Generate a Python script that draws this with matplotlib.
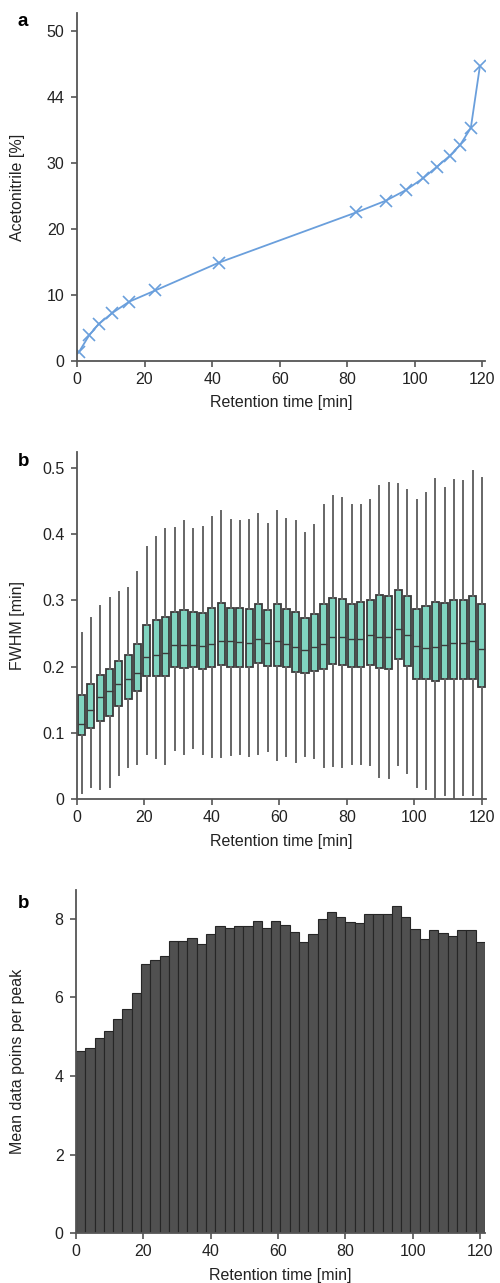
import matplotlib
matplotlib.use('Agg')
import matplotlib.pyplot as plt
import numpy as np

# panel a: gradient (acetonitrile vs retention time)
grad_time = [0.5, 3.6, 6.4, 10.5, 15.5, 23.2, 42.0, 82.6, 91.5, 97.4,
             102.5, 106.5, 110.4, 113.4, 116.6, 119.3]
grad_acn = [1.3, 3.9, 5.6, 7.3, 9.0, 10.7, 14.9, 22.5, 24.3, 25.9,
            27.7, 29.4, 31.1, 32.7, 35.3, 44.7]
acn_ticks = [0, 10, 20, 30, 40, 50]
acn_labels = ['0', '10', '20', '30', '44', '50']

# panel b: FWHM box statistics per retention time bin
fwhm_whislo = [0.009, 0.018, 0.016, 0.018, 0.037, 0.048, 0.053, 0.068, 0.063, 0.053, 0.074,
               0.068, 0.077, 0.068, 0.064, 0.064, 0.067, 0.069, 0.066, 0.069, 0.073, 0.059,
               0.066, 0.057, 0.066, 0.062, 0.048, 0.050, 0.048, 0.053, 0.053, 0.052, 0.034,
               0.032, 0.051, 0.040, 0.019, 0.015, 0.004, 0.007, 0.000, 0.007, 0.007, 0.000]
fwhm_q1 = [0.097, 0.107, 0.118, 0.125, 0.141, 0.151, 0.163, 0.186, 0.186, 0.186, 0.200,
           0.198, 0.199, 0.196, 0.200, 0.203, 0.200, 0.200, 0.200, 0.205, 0.201, 0.201,
           0.199, 0.192, 0.191, 0.194, 0.196, 0.204, 0.202, 0.199, 0.199, 0.203, 0.198,
           0.196, 0.211, 0.201, 0.181, 0.181, 0.178, 0.182, 0.182, 0.182, 0.182, 0.169]
fwhm_med = [0.114, 0.134, 0.154, 0.163, 0.174, 0.182, 0.191, 0.214, 0.218, 0.221, 0.233,
            0.232, 0.233, 0.231, 0.234, 0.239, 0.238, 0.237, 0.236, 0.241, 0.236, 0.238,
            0.234, 0.230, 0.225, 0.230, 0.234, 0.245, 0.245, 0.241, 0.242, 0.247, 0.245,
            0.245, 0.257, 0.247, 0.231, 0.228, 0.229, 0.233, 0.236, 0.236, 0.239, 0.226]
fwhm_q3 = [0.158, 0.174, 0.188, 0.197, 0.209, 0.218, 0.234, 0.263, 0.270, 0.275, 0.283,
           0.286, 0.283, 0.281, 0.289, 0.296, 0.288, 0.288, 0.287, 0.295, 0.286, 0.294,
           0.287, 0.282, 0.274, 0.280, 0.294, 0.304, 0.302, 0.295, 0.297, 0.301, 0.308,
           0.307, 0.315, 0.306, 0.287, 0.292, 0.298, 0.296, 0.300, 0.301, 0.306, 0.294]
fwhm_whishi = [0.251, 0.274, 0.292, 0.304, 0.313, 0.319, 0.343, 0.380, 0.395, 0.407, 0.409,
               0.419, 0.407, 0.410, 0.426, 0.434, 0.421, 0.420, 0.421, 0.430, 0.415, 0.435,
               0.423, 0.419, 0.402, 0.413, 0.444, 0.457, 0.455, 0.444, 0.444, 0.452, 0.472,
               0.477, 0.475, 0.466, 0.451, 0.462, 0.483, 0.470, 0.482, 0.480, 0.495, 0.484]

# panel c: mean data points per peak
mean_points = [4.63, 4.71, 4.96, 5.15, 5.46, 5.69, 6.11, 6.85, 6.94, 7.05, 7.44,
               7.44, 7.51, 7.36, 7.60, 7.82, 7.77, 7.82, 7.80, 7.95, 7.75, 7.95,
               7.83, 7.65, 7.41, 7.61, 8.00, 8.17, 8.03, 7.92, 7.90, 8.11, 8.11,
               8.11, 8.32, 8.05, 7.73, 7.47, 7.72, 7.64, 7.56, 7.70, 7.72, 7.41]

bin_width = 2.76
bin_centers = (np.arange(len(mean_points)) + 0.5) * bin_width

plt.rcParams.update({'font.family': 'Liberation Sans', 'font.size': 11.5})

spine_col = '#555555'
text_col = '#222222'


def style_axes(ax, ylab_x):
    for s in ['top', 'right']:
        ax.spines[s].set_visible(False)
    for s in ['left', 'bottom']:
        ax.spines[s].set_color(spine_col)
        ax.spines[s].set_linewidth(1.3)
    ax.tick_params(colors=spine_col, labelcolor=text_col, length=4, width=1.2)
    ax.tick_params(axis='y', pad=5)
    ax.tick_params(axis='x', pad=4)
    ax.set_xticks([0, 20, 40, 60, 80, 100, 120])
    ax.set_xlabel('Retention time [min]', color=text_col, labelpad=6)
    ax.yaxis.set_label_coords(ylab_x, 0.5)


fig = plt.figure(figsize=(5.0, 12.83), dpi=100)

# panel a
ax1 = fig.add_axes([0.154, 0.7186, 0.816, 0.2712])
ax1.plot(grad_time, grad_acn, color='#6a9fdc', lw=1.3, marker='x',
         ms=8, mew=1.2)
ax1.set_xlim(0, 120.8)
ax1.set_ylim(0, 52.7)
ax1.set_yticks(acn_ticks)
ax1.set_yticklabels(acn_labels)
ax1.set_ylabel('Acetonitrile [%]', color=text_col, va='center')
style_axes(ax1, -0.145)
fig.text(0.036, 0.983, 'a', fontsize=13.5, fontweight='bold', va='center')

# panel b
ax2 = fig.add_axes([0.154, 0.377, 0.818, 0.2709])
stats = []
for i in range(len(fwhm_med)):
    stats.append({'whislo': fwhm_whislo[i], 'q1': fwhm_q1[i], 'med': fwhm_med[i],
                  'q3': fwhm_q3[i], 'whishi': fwhm_whishi[i], 'fliers': []})
ax2.bxp(stats, positions=bin_centers, widths=2.1, patch_artist=True,
        showcaps=False, showfliers=False, manage_ticks=False,
        boxprops=dict(facecolor='#80d4c0', edgecolor='#3a3a3a', linewidth=1.3),
        medianprops=dict(color='#3a3a3a', linewidth=1.0),
        whiskerprops=dict(color='#666666', linewidth=1.4))
ax2.set_xlim(0, 121.3)
ax2.set_ylim(0, 0.524)
ax2.set_yticks([0, 0.1, 0.2, 0.3, 0.4, 0.5])
ax2.set_yticklabels(['0', '0.1', '0.2', '0.3', '0.4', '0.5'])
ax2.set_ylabel('FWHM [min]', color=text_col, va='center')
style_axes(ax2, -0.145)
fig.text(0.036, 0.6405, 'b', fontsize=13.5, fontweight='bold', va='center')

# panel c
ax3 = fig.add_axes([0.152, 0.0387, 0.818, 0.268])
ax3.bar(bin_centers, mean_points, width=bin_width, color='#505050',
        edgecolor='#262626', linewidth=0.8)
ax3.set_xlim(0, 121.5)
ax3.set_ylim(0, 8.74)
ax3.set_yticks([0, 2, 4, 6, 8])
ax3.set_ylabel('Mean data poins per peak', color=text_col, va='center')
style_axes(ax3, -0.142)
fig.text(0.036, 0.296, 'b', fontsize=13.5, fontweight='bold', va='center')

fig.savefig('out.png', dpi=100)
